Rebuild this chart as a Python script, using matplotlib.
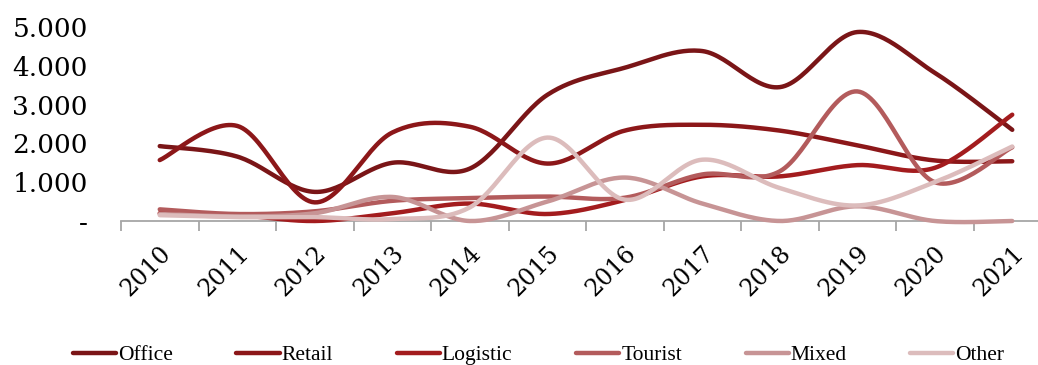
import numpy as np
import matplotlib.pyplot as plt
from matplotlib.ticker import FuncFormatter

years = ["2010", "2011", "2012", "2013", "2014", "2015",
         "2016", "2017", "2018", "2019", "2020", "2021"]

office = [1930, 1660, 750, 1500, 1350, 3250, 3950, 4380, 3450, 4870, 3820, 2350]
retail = [1570, 2450, 480, 2280, 2430, 1480, 2330, 2480, 2330, 1950, 1560, 1540]
logistic = [200, 150, 0, 200, 450, 180, 540, 1150, 1150, 1440, 1370, 2740]
tourist = [300, 180, 250, 520, 590, 630, 600, 1200, 1280, 3340, 1000, 1900]
mixed = [180, 120, 200, 620, 0, 500, 1120, 450, 0, 380, 0, 0]
other = [150, 100, 100, 50, 350, 2150, 550, 1580, 850, 400, 1000, 1920]

series = [
    ("Office", office, "#7a1517"),
    ("Retail", retail, "#8c1719"),
    ("Logistic", logistic, "#a31c1e"),
    ("Tourist", tourist, "#b35b5c"),
    ("Mixed", mixed, "#c79495"),
    ("Other", other, "#dcbcbc"),
]


def smooth(y, n=30):
    # Catmull-Rom style bezier through every point (like spreadsheet smoothed lines)
    y = np.asarray(y, dtype=float)
    x = np.arange(len(y), dtype=float)
    pts = np.column_stack([x, y])
    padded = np.vstack([pts[0], pts, pts[-1]])
    out = []
    t = np.linspace(0, 1, n)[:, None]
    for i in range(len(pts) - 1):
        p0, p1, p2, p3 = padded[i], padded[i + 1], padded[i + 2], padded[i + 3]
        c1 = p1 + (p2 - p0) / 6
        c2 = p2 - (p3 - p1) / 6
        seg = ((1 - t) ** 3) * p1 + 3 * ((1 - t) ** 2) * t * c1 \
            + 3 * (1 - t) * t ** 2 * c2 + t ** 3 * p2
        out.append(seg if i == 0 else seg[1:])
    seg = np.vstack(out)
    return seg[:, 0], seg[:, 1]


fig = plt.figure(figsize=(10.38, 3.65), dpi=100)
ax = fig.add_axes([121 / 1038, 1 - 221 / 365, 930 / 1038, 194 / 365])

for name, vals, col in series:
    sx, sy = smooth(vals)
    ax.plot(sx, sy, color=col, lw=3.2, label=name, clip_on=False,
            solid_capstyle="round")

ax.set_xlim(-0.5, 11.5)
ax.set_ylim(0, 5000)

ax.set_yticks(range(0, 5001, 1000))
ax.yaxis.set_major_formatter(FuncFormatter(
    lambda v, p: "-" if v == 0 else f"{v:,.0f}".replace(",", ".")))
ax.tick_params(axis="y", length=0, pad=24, labelsize=19)
for lab in ax.get_yticklabels():
    lab.set_family("DejaVu Serif")

ax.set_xticks(range(len(years)))
ax.set_xticklabels(years, rotation=45, ha="right", va="top",
                   rotation_mode="anchor", family="DejaVu Serif", fontsize=17)
ax.set_xticks(np.arange(-0.5, 12, 1), minor=True)
ax.tick_params(axis="x", which="major", length=0, pad=15)
ax.tick_params(axis="x", which="minor", length=7, width=1.3, color="#a6a6a6")

for s in ["top", "right", "left"]:
    ax.spines[s].set_visible(False)
ax.spines["bottom"].set_color("#a6a6a6")
ax.spines["bottom"].set_linewidth(1.3)
ax.spines["bottom"].set_zorder(0)

fig.legend(loc="center", bbox_to_anchor=(0.519, 0.027), ncol=6, frameon=False,
           prop={"family": "Liberation Serif", "size": 15.5},
           handlelength=2.0, handletextpad=0.1, columnspacing=2.95)

fig.savefig("out.png", dpi=100)
